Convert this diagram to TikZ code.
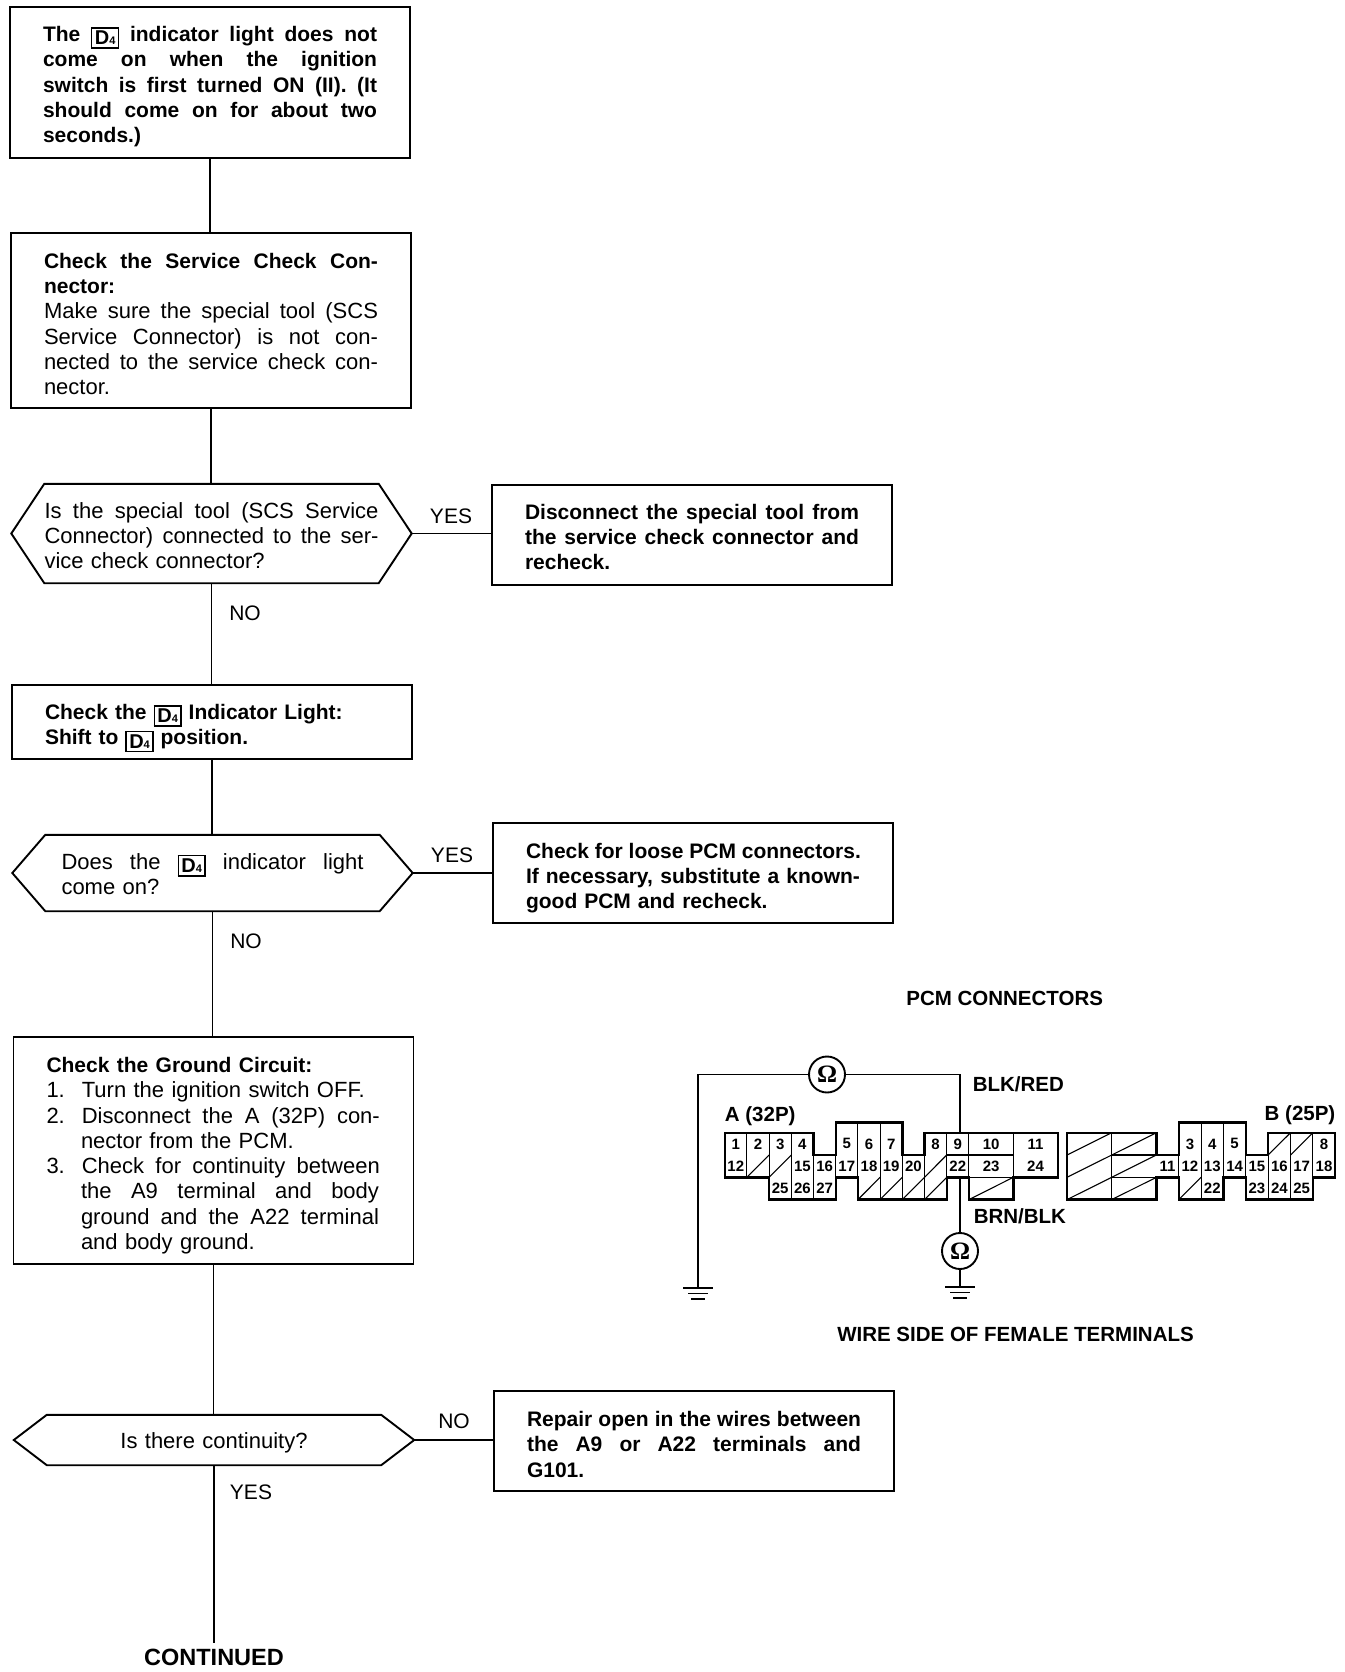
\documentclass[tikz,border=0pt]{standalone}
\usepackage{fontspec}
\setmainfont{Liberation Sans}
\newfontfamily\ohmfont{Liberation Serif}
\newcommand{\bd}{\fontsize{21}{25.3}\selectfont\bfseries}
\tikzset{
	boxline/.style={line width=1.9pt},
	textdown/.style={execute at begin node={\rule{0pt}{\dimexpr16pt+#1\relax}}},
	stepbox/.style={draw, boxline, inner xsep=33pt, inner ysep=0pt, text width=334pt, align=left, font=\fontsize{22}{25.3}\selectfont},
	boldbox/.style={stepbox, font=\bd},
	choicebox/.style={inner xsep=33pt, inner ysep=0pt, text width=334pt, align=left, font=\fontsize{22}{25.3}\selectfont},
	answer/.style={inner sep=0pt, font=\fontsize{21}{25}\selectfont},
	title/.style={inner sep=0pt, font=\fontsize{20.5}{25}\selectfont\bfseries},
	meter/.style={draw, circle, boxline, minimum size=36pt, inner sep=0pt, font=\fontsize{25}{25}\selectfont\ohmfont\bfseries},
	pinnum/.style={inner sep=0pt, font=\fontsize{15}{15}\selectfont\bfseries},
	thin wire/.style={line width=1.1pt},
}
\newcommand{\jw}[2]{\leavevmode\hbox to #1{\spaceskip=.278em plus 1em\xspaceskip=\spaceskip #2}}
\newcommand{\jl}[1]{\jw{334pt}{#1}}
\newcommand{\jlb}[1]{\jw{298pt}{#1}}
\newcommand{\dfour}{\smash{\raisebox{-3.5pt}{\setlength{\fboxsep}{2.5pt}\setlength{\fboxrule}{1.3pt}\fbox{\bfseries\fontsize{20}{20}\selectfont D\fontsize{11}{11}\selectfont 4}}}}
\newcommand{\hexline}[1]{\draw[boxline] (#1.west) -- ([xshift=33pt]#1.north west) -- ([xshift=-33pt]#1.north east) -- (#1.east) -- ([xshift=-33pt]#1.south east) -- ([xshift=33pt]#1.south west) -- cycle;}
\newcommand{\gnd}[1]{\draw[boxline] ([xshift=-15pt]#1) -- ([xshift=15pt]#1);
	\draw[boxline] ([xshift=-10pt,yshift=-5.5pt]#1) -- ([xshift=10pt,yshift=-5.5pt]#1);
	\draw[boxline] ([xshift=-7pt,yshift=-11pt]#1) -- ([xshift=7pt,yshift=-11pt]#1);}
\begin{document}
\begin{tikzpicture}[x=1pt, y=-1pt]
	\useasboundingbox (0,0) rectangle (1344,1672);

	\node[boldbox, textdown=7.5pt, minimum height=151pt] (start) at (210,82.5) {\jl{The \dfour{} indicator light does not}\\ \jl{come on when the ignition}\\ \jl{switch is first turned ON (II). (It}\\ \jl{should come on for about two}\\ seconds.)};
	\node[stepbox, textdown=6.5pt, minimum height=175pt] (service) at (211,320.5) {\jl{\bd Check the Service Check Con-}\\ {\bd nector:}\\ \jl{Make sure the special tool (SCS}\\ \jl{Service Connector) is not con-}\\ \jl{nected to the service check con-}\\ nector.};
	\node[choicebox, textdown=4pt, minimum height=99pt] (tool) at (211.5,533.5) {\jl{Is the special tool (SCS Service}\\ \jl{Connector) connected to the ser-}\\ vice check connector?};
	\node[boldbox, textdown=3pt, minimum height=100pt] (remove) at (692,535) {\jl{Disconnect the special tool from}\\ \jl{the service check connector and}\\ recheck.};
	\node[boldbox, textdown=8.5pt, minimum height=74pt] (light) at (212,722) {Check the \dfour{} Indicator Light:\\ Shift to \dfour{} position.};
	\node[choicebox, textdown=2pt, minimum height=76pt] (comeon) at (212.5,873) {\hspace{16pt}\jw{302pt}{Does the \dfour{} indicator light}\\ \hspace{16pt}come on?};
	\node[boldbox, textdown=9.5pt, minimum height=100pt] (loose) at (693,873) {\jl{Check for loose PCM connectors.}\\ \jl{If necessary, substitute a known-}\\ good PCM and recheck.};
	\node[stepbox, textdown=9.5pt, minimum height=227pt] (ground) at (213.5,1150.5) {{\bd Check the Ground Circuit:}\\ 1.\hspace{17pt}Turn the ignition switch OFF.\\ 2.\hspace{17pt}\jlb{Disconnect the A (32P) con-}\\ \hspace{34.5pt}nector from the PCM.\\ 3.\hspace{17pt}\jlb{Check for continuity between}\\ \hspace{34.5pt}\jlb{the A9 terminal and body}\\ \hspace{34.5pt}\jlb{ground and the A22 terminal}\\ \hspace{34.5pt}and body ground.};
	\node[choicebox, textdown=5pt, minimum height=50pt, align=center] (cont) at (214,1440) {Is there continuity?};
	\node[boldbox, textdown=6pt, minimum height=100pt] (repair) at (694,1441) {\jl{Repair open in the wires between}\\ \jl{the A9 or A22 terminals and}\\ G101.};
	\node[answer, inner ysep=6pt, font=\fontsize{23.5}{25}\selectfont\bfseries] (continued) at (214,1657.5) {CONTINUED};
	\hexline{tool}
	\hexline{comeon}
	\hexline{cont}

	\draw[boxline] (start.south) -- (start.south |- service.north);
	\draw[boxline] (service.south) -- (service.south |- tool.north);
	\draw[boxline] (tool.south) -- (tool.south |- light.north);
	\draw[boxline] (light.south) -- (light.south |- comeon.north);
	\draw[boxline] (comeon.south) -- (comeon.south |- ground.north);
	\draw[boxline] (ground.south) -- (ground.south |- cont.north);
	\draw[boxline] (cont.south) -- (cont.south |- continued.north);
	\draw[boxline] (tool.east) -- (remove.west |- tool.east);
	\draw[boxline] (comeon.east) -- (loose.west |- comeon.east);
	\draw[boxline] (cont.east) -- (repair.west |- cont.east);

	\node[answer] (yesa) at (451,516) {YES};
	\node[answer] (noa) at (245,613) {NO};
	\node[answer] (yesb) at (452,855) {YES};
	\node[answer] (nob) at (246,941) {NO};
	\node[answer] (noc) at (454,1421) {NO};
	\node[answer] (yesc) at (251,1492) {YES};

	\node[title] (pcmtitle) at (1004.7,998.7) {PCM CONNECTORS};
	\node[title] (wiretitle) at (1015.5,1334.5) {WIRE SIDE OF FEMALE TERMINALS};
	\node[title, anchor=west] (blkred) at (972.6,1084.6) {BLK/RED};
	\node[title, anchor=west] (brnblk) at (973.6,1216.5) {BRN/BLK};
	\node[title, anchor=west] (conna) at (724.7,1115.7) {A (32P)};
	\node[title, anchor=west] (connb) at (1264.5,1114.7) {B (25P)};

	\node[meter] (ohmtop) at (827,1074.5) {Ω};
	\node[meter] (ohmlow) at (960,1251) {Ω};
	\coordinate (gndleft) at (698,1288);
	\coordinate (gndlow) at (960,1287);
	\coordinate (pintop) at (960,1133);
	\coordinate (pinlow) at (960,1179);
	\draw[boxline] (ohmtop.west) -| (gndleft);
	\draw[boxline] (ohmtop.east) -| (pintop);
	\draw[boxline] (pinlow) -- (ohmlow.north);
	\draw[boxline] (ohmlow.south) -- (gndlow);
	\gnd{gndleft}
	\gnd{gndlow}

	\begin{scope}[shift={(724.7,1132.7)}, x=22.2pt, y=-22.3pt]
		\draw[line width=2.4pt] (0,0) -- (4,0) -- (4,1) -- (5,1) -- (5,-0.45) -- (8,-0.45) -- (8,1) -- (9,1) -- (9,0) -- (15,0) -- (15,2) -- (13,2) -- (13,3) -- (11,3) -- (11,2) -- (10,2) -- (10,3) -- (6,3) -- (6,2) -- (5,2) -- (5,3) -- (2,3) -- (2,2) -- (0,2) -- cycle;
		\foreach \xa/\ya/\yb in {1/0/2, 2/0/3, 3/0/3, 4/0/3, 5/-0.45/3, 6/-0.45/3, 7/-0.45/3, 8/0/3, 9/0/3, 10/0/3, 11/0/3, 13/0/3}
			\draw[thin wire] (\xa,\ya) -- (\xa,\yb);
		\draw[thin wire] (10,1) -- (13,1);
		\draw[thin wire] (10,2) -- (13,2);
		\foreach \xa/\ya/\xb/\yb in {1/2/2/1, 2/2/3/1, 6/3/7/2, 7/3/8/2, 8/3/9/2, 9/2/10/1, 9/3/10/2, 11/3/13/2}
			\draw[thin wire] (\xa,\ya) -- (\xb,\yb);
		\foreach \cx/\cy/\lab in {0/0/1, 1/0/2, 2/0/3, 3/0/4, 5/0/5, 6/0/6, 7/0/7, 9/0/8, 10/0/9, 0/1/12, 3/1/15, 4/1/16, 5/1/17, 6/1/18, 7/1/19, 8/1/20, 10/1/22, 2/2/25, 3/2/26, 4/2/27}
			\node[pinnum] (a\lab) at (\cx+0.5,\cy+0.5) {\lab};
		\node[pinnum] (a10) at (12,0.5) {10};
		\node[pinnum] (a11) at (14,0.5) {11};
		\node[pinnum] (a23) at (12,1.5) {23};
		\node[pinnum] (a24) at (14,1.5) {24};
	\end{scope}

	\begin{scope}[shift={(1067,1132.7)}, x=22.35pt, y=-22.3pt]
		\draw[line width=2.4pt] (0,0) -- (4,0) -- (4,1) -- (5,1) -- (5,-0.45) -- (8,-0.45) -- (8,1) -- (9,1) -- (9,0) -- (12,0) -- (12,2) -- (11,2) -- (11,3) -- (8,3) -- (8,2) -- (7,2) -- (7,3) -- (5,3) -- (5,2) -- (4,2) -- (4,3) -- (0,3) -- cycle;
		\foreach \xa/\ya/\yb in {2/0/3, 5/-0.45/3, 6/-0.45/3, 7/-0.45/3, 8/-0.45/3, 9/0/3, 10/0/3, 11/0/2}
			\draw[thin wire] (\xa,\ya) -- (\xa,\yb);
		\foreach \cy in {1,2}
			\draw[thin wire] (2,\cy) -- (4,\cy);
		\foreach \xa/\ya/\xb/\yb in {0/1/2/0, 0/2/2/1, 0/3/2/2, 2/1/4/0, 2/2/4/1, 2/3/4/2, 5/3/6/2, 9/1/10/0, 10/1/11/0}
			\draw[thin wire] (\xa,\ya) -- (\xb,\yb);
		\foreach \cx/\cy/\lab in {5/0/3, 6/0/4, 7/0/5, 11/0/8, 4/1/11, 5/1/12, 6/1/13, 7/1/14, 8/1/15, 9/1/16, 10/1/17, 11/1/18, 6/2/22, 8/2/23, 9/2/24, 10/2/25}
			\node[pinnum] (b\lab) at (\cx+0.5,\cy+0.5) {\lab};
	\end{scope}
\end{tikzpicture}
\end{document}
